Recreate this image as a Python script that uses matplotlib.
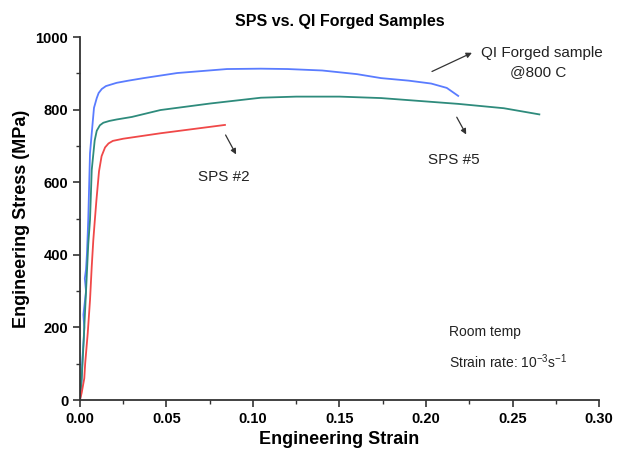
import matplotlib.pyplot as plt
from matplotlib.ticker import MultipleLocator

plt.rcParams['font.family'] = ['Liberation Sans', 'DejaVu Sans']
plt.rcParams['mathtext.fontset'] = 'custom'
plt.rcParams['mathtext.rm'] = 'Liberation Sans'
plt.rcParams['mathtext.it'] = 'Liberation Sans'
plt.rcParams['mathtext.default'] = 'regular'

# QI forged sample @800 C
qi_strain = [0.0, 0.0008, 0.0015, 0.0022, 0.0025, 0.002, 0.0035, 0.0028, 0.0035, 0.004, 0.0045,
             0.0048, 0.0058, 0.0068, 0.0081, 0.0097, 0.0108, 0.0126, 0.015, 0.0212, 0.028,
             0.0368, 0.0562, 0.085, 0.1046, 0.12, 0.14, 0.16, 0.174, 0.19, 0.203, 0.212,
             0.2186]
qi_stress = [0, 40, 120, 170, 200, 235, 300, 335, 360, 400, 460,
             500, 680, 735, 805, 832, 846, 857, 865, 874, 880,
             887, 901, 912, 913, 912, 908, 898, 887, 880, 872, 860,
             838]

# SPS #5
sps5_strain = [0.0, 0.001, 0.002, 0.003, 0.004, 0.0048, 0.0058, 0.0068, 0.0085, 0.0097, 0.0115,
               0.0135, 0.017, 0.0212, 0.03, 0.0465, 0.0752, 0.1046, 0.125, 0.15, 0.174,
               0.2186, 0.245, 0.2655]
sps5_stress = [0, 60, 150, 250, 350, 430, 496, 634, 715, 742, 757,
               764, 769, 773, 780, 799, 817, 833, 836, 836, 832,
               816, 804, 787]

# SPS #2
sps2_strain = [0.0, 0.001, 0.0025, 0.003, 0.0045, 0.0058, 0.0068, 0.0077, 0.0085, 0.0095,
               0.011, 0.0125, 0.0145, 0.0165, 0.019, 0.025, 0.0465, 0.0838]
sps2_stress = [0, 20, 60, 100, 185, 275, 368, 440, 490, 550,
               630, 672, 696, 707, 714, 720, 735, 758]

x_ticks = [0.00, 0.05, 0.10, 0.15, 0.20, 0.25, 0.30]
y_ticks = [0, 200, 400, 600, 800, 1000]

fig = plt.figure(figsize=(6.18, 4.58), dpi=100)
ax = fig.add_axes([0.1294, 0.1266, 0.8399, 0.7924])

ax.plot(qi_strain, qi_stress, color='#5a7cff', lw=1.3)
ax.plot(sps5_strain, sps5_stress, color='#2e8b7c', lw=1.3)
ax.plot(sps2_strain, sps2_stress, color='#f04848', lw=1.3)

ax.set_xlim(0, 0.30)
ax.set_ylim(0, 1000)
ax.set_xticks(x_ticks)
ax.set_yticks(y_ticks)
ax.set_xticklabels([f'{t:.2f}' for t in x_ticks], fontweight='bold', fontsize=10.5)
ax.set_yticklabels([str(t) for t in y_ticks], fontweight='bold', fontsize=10.5)
ax.xaxis.set_minor_locator(MultipleLocator(0.025))
ax.yaxis.set_minor_locator(MultipleLocator(100))
ax.tick_params(which='major', direction='out', length=5, width=1.2, color='#333333')
ax.tick_params(which='minor', direction='out', length=3, width=1.0, color='#333333')
for s in ['top', 'right']:
    ax.spines[s].set_visible(False)
for s in ['left', 'bottom']:
    ax.spines[s].set_linewidth(1.3)
    ax.spines[s].set_color('#333333')

ax.set_xlabel('Engineering Strain', fontweight='bold', fontsize=13)
ax.set_ylabel('Engineering Stress (MPa)', fontweight='bold', fontsize=13)
ax.set_title('SPS vs. QI Forged Samples', fontweight='bold', fontsize=11.5, pad=8)

arrow = dict(arrowstyle='-|>', color='#333333', lw=0.9, mutation_scale=8)
ax.annotate('', xy=(0.228, 960), xytext=(0.202, 902), arrowprops=arrow)
ax.text(0.2316, 957, 'QI Forged sample', fontsize=11, va='center', ha='left', color='#222222')
ax.text(0.265, 905, '@800 C', fontsize=11, va='center', ha='center', color='#222222')
ax.annotate('', xy=(0.224, 725), xytext=(0.217, 786), arrowprops=arrow)
ax.text(0.216, 662, 'SPS #5', fontsize=11, va='center', ha='center', color='#222222')
ax.annotate('', xy=(0.091, 670), xytext=(0.0834, 737), arrowprops=arrow)
ax.text(0.0834, 615, 'SPS #2', fontsize=11, va='center', ha='center', color='#222222')
ax.text(0.2135, 188, 'Room temp', fontsize=10, va='center', ha='left', color='#222222')
ax.text(0.2135, 105, r'Strain rate: 10$^{-3}$s$^{-1}$', fontsize=10, va='center', ha='left', color='#222222')

fig.savefig('out.png', dpi=100)
